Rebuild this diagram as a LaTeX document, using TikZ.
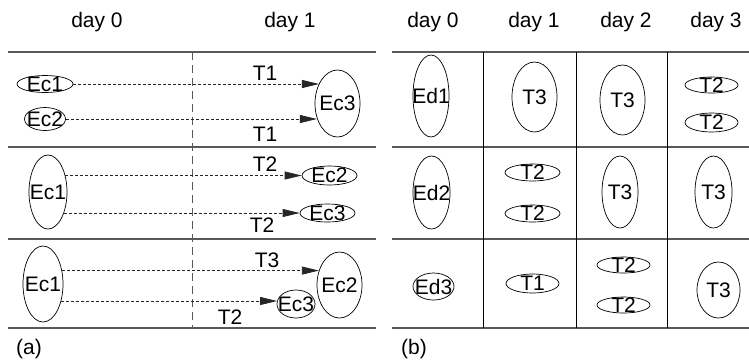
\documentclass[tikz,border=0pt]{standalone}
\usepackage{fontspec}
\setmainfont{Liberation Sans}
\usetikzlibrary{shapes.geometric,arrows.meta}
\begin{document}
\begin{tikzpicture}[x=1pt,y=-1pt,
  every node/.style={font=\fontsize{21}{24}\selectfont},
  ell/.style={draw, ellipse, inner sep=0pt, line width=0.7pt},
  rule/.style={draw=black!65, line width=1.3pt},
  vrule/.style={draw=black, line width=0.9pt},
  sep/.style={draw=black!65, line width=0.9pt, dash pattern=on 8pt off 5pt},
  flow/.style={draw=black!85, line width=0.8pt, dash pattern=on 3pt off 2pt,
    -{Triangle[length=17pt,width=8pt]}},
  hdr/.style={anchor=base}]
\useasboundingbox (0,0) rectangle (749,360);
% headers
\node[hdr] (h0) at (97,27) {day 0};
\node[hdr] (h1) at (290,27) {day 1};
\node[hdr] (h2) at (433,27) {day 0};
\node[hdr] (h3) at (534,27) {day 1};
\node[hdr] (h4) at (626,27) {day 2};
\node[hdr] (h5) at (716,27) {day 3};
% panel (a) frame
\foreach \y in {52,147,239,328} \draw[rule] (8,\y) -- (376,\y);
\draw[sep] (192,52) -- (192,328);
% panel (b) frame
\foreach \y in {52,147,239,328} \draw[rule] (392,\y) -- (749,\y);
\foreach \x in {483,576,667} \draw[vrule] (\x,52) -- (\x,328);
% captions
\node[hdr] (capa) at (29,354) {(a)};
\node[hdr] (capb) at (414,354) {(b)};
% ---- panel (a), row 1
\node[ell, minimum width=56pt, minimum height=17pt, label=center:{Ec1}] (a1c1) at (45,84) {};
\node[ell, minimum width=41pt, minimum height=23pt, label=center:{Ec2}] (a1c2) at (45,119) {};
\node[ell, minimum width=45pt, minimum height=67pt, label=center:{Ec3}] (a1c3) at (337.5,103.5) {};
\draw[flow] (a1c1.east) -- (a1c1.east -| a1c3.133);
\draw[flow] (a1c2.east) -- (a1c2.east -| a1c3.215);
\node (ta1) at (265,73) {T1};
\node (ta2) at (265,134) {T1};
% ---- panel (a), row 2
\node[ell, minimum width=38pt, minimum height=74pt, label=center:{Ec1}] (a2c1) at (48,192) {};
\node[ell, minimum width=55pt, minimum height=19pt, label=center:{Ec2}] (a2c2) at (329.5,175.5) {};
\node[ell, minimum width=55pt, minimum height=18pt, label=center:{Ec3}] (a2c3) at (327.5,213) {};
\draw[flow] (a2c1.45 |- a2c2.west) -- (a2c2.west);
\draw[flow] (a2c1.307 |- a2c3.west) -- (a2c3.west);
\node (tb1) at (265,164) {T2};
\node (tb2) at (262,225) {T2};
% ---- panel (a), row 3
\node[ell, minimum width=40pt, minimum height=76pt, label=center:{Ec1}] (a3c1) at (43,284) {};
\node[ell, minimum width=45pt, minimum height=66pt, label=center:{Ec2}] (a3c2) at (339.5,285) {};
\node[ell, minimum width=38pt, minimum height=28pt, label=center:{Ec3}] (a3c3) at (296,304) {};
\draw[flow] (a3c1.35 |- a3c2.145) -- (a3c2.145);
\draw[flow] (a3c1.316 |- a3c3.171) -- (a3c3.171);
\node (tc1) at (267,260) {T3};
\node (tc2) at (230,317) {T2};
% ---- panel (b), row 1
\node[ell, minimum width=36pt, minimum height=82pt, label=center:{Ed1}] (b1a) at (431,96) {};
\node[ell, minimum width=45pt, minimum height=70pt, label=center:{T3}] (b1b) at (534.5,97) {};
\node[ell, minimum width=45pt, minimum height=70pt, label=center:{T3}] (b1c) at (622.5,100) {};
\node[ell, minimum width=53pt, minimum height=16pt, label=center:{T2}] (b1d) at (711.5,85) {};
\node[ell, minimum width=53pt, minimum height=19pt, label=center:{T2}] (b1e) at (711.5,122.5) {};
% ---- panel (b), row 2
\node[ell, minimum width=37pt, minimum height=73pt, label=center:{Ed2}] (b2a) at (431.5,192.5) {};
\node[ell, minimum width=55pt, minimum height=17pt, label=center:{T2}] (b2b) at (532.5,172.5) {};
\node[ell, minimum width=55pt, minimum height=17pt, label=center:{T2}] (b2c) at (532.5,213.5) {};
\node[ell, minimum width=36pt, minimum height=72pt, label=center:{T3}] (b2d) at (620,192) {};
\node[ell, minimum width=37pt, minimum height=72pt, label=center:{T3}] (b2e) at (713.5,192) {};
% ---- panel (b), row 3
\node[ell, minimum width=41pt, minimum height=27pt, label=center:{Ed3}] (b3a) at (433.5,286.5) {};
\node[ell, minimum width=53pt, minimum height=19pt, label=center:{T1}] (b3b) at (532.5,283.5) {};
\node[ell, minimum width=53pt, minimum height=16pt, label=center:{T2}] (b3c) at (623.5,265) {};
\node[ell, minimum width=53pt, minimum height=16pt, label=center:{T2}] (b3d) at (623.5,305) {};
\node[ell, minimum width=43pt, minimum height=56pt, label=center:{T3}] (b3e) at (718.5,290) {};
\end{tikzpicture}
\end{document}
